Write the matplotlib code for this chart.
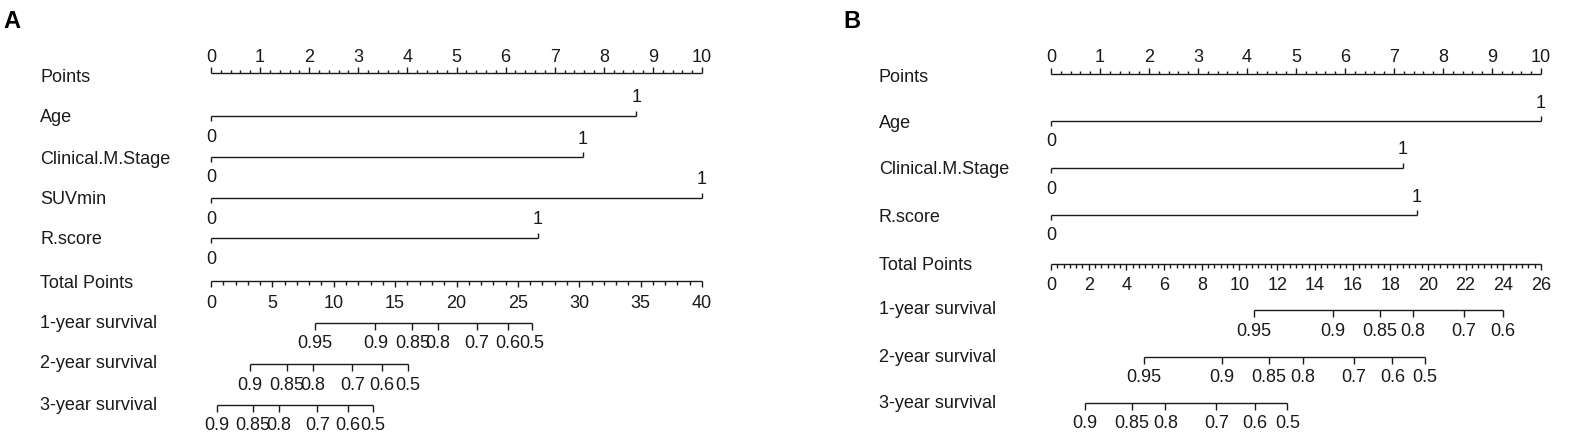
import matplotlib
matplotlib.use("Agg")
import matplotlib.pyplot as plt
import matplotlib.transforms as mtransforms
import numpy as np

W, H = 1582, 446
plt.rcParams["font.family"] = ["Liberation Sans", "DejaVu Sans"]

# ---------------- panel A data ----------------
a_vars = ["Age", "Clinical.M.Stage", "SUVmin", "R.score"]
a_var_points = [8.66, 7.57, 10.0, 6.66]  # points at value 1 (value 0 -> 0 points)
a_total_max = 40
a_total_labels = [0, 5, 10, 15, 20, 25, 30, 35, 40]
a_surv_names = ["1-year survival", "2-year survival", "3-year survival"]
a_surv_probs = [
    [0.95, 0.9, 0.85, 0.8, 0.7, 0.6, 0.5],
    [0.9, 0.85, 0.8, 0.7, 0.6, 0.5],
    [0.9, 0.85, 0.8, 0.7, 0.6, 0.5],
]
a_surv_total = [
    [8.48, 13.4, 16.4, 18.48, 21.64, 24.18, 26.17],
    [3.16, 6.17, 8.28, 11.52, 13.95, 16.02],
    [0.51, 3.44, 5.55, 8.67, 11.17, 13.16],
]

# ---------------- panel B data ----------------
b_vars = ["Age", "Clinical.M.Stage", "R.score"]
b_var_points = [10.0, 7.18, 7.46]
b_total_max = 26
b_total_labels = [0, 2, 4, 6, 8, 10, 12, 14, 16, 18, 20, 22, 24, 26]
b_surv_names = ["1-year survival", "2-year survival", "3-year survival"]
b_surv_probs = [
    [0.95, 0.9, 0.85, 0.8, 0.7, 0.6],
    [0.95, 0.9, 0.85, 0.8, 0.7, 0.6, 0.5],
    [0.9, 0.85, 0.8, 0.7, 0.6, 0.5],
]
b_surv_total = [
    [10.78, 14.94, 17.44, 19.22, 21.92, 23.96],
    [4.92, 9.05, 11.55, 13.36, 16.06, 18.12, 19.83],
    [1.81, 4.28, 6.07, 8.77, 10.81, 12.54],
]

point_labels = list(range(0, 11))

LC = "#1a1a1a"
FS = 13


def draw_nomogram(fig, letter, letter_x, px0, px1, label_px, rows,
                  var_names, var_points, total_max, total_labels,
                  total_minor, surv_names, surv_probs, surv_total):
    ax = fig.add_axes([px0 / W, 0, (px1 - px0) / W, 1])
    ax.set_xlim(0, 10)
    ax.set_ylim(H, 0)
    ax.axis("off")
    lab = mtransforms.blended_transform_factory(fig.transFigure, ax.transData)
    kw = dict(color=LC, lw=1.0, solid_capstyle="butt", clip_on=False)

    fig.text(letter_x / W, 1 - 21 / H, letter, fontsize=17, fontweight="bold",
             ha="left", va="center", color="black")

    # Points axis (ticks up, labels above)
    y = rows["points"]
    ax.plot([0, 10], [y, y], **kw)
    for t in np.arange(0, 10.001, 0.2):
        major = abs(t - round(t)) < 1e-6
        ax.plot([t, t], [y, y - (6 if major else 3)], **kw)
    for t in point_labels:
        ax.text(t, y - 16, str(t), ha="center", va="center", fontsize=FS, color=LC)
    ax.text(label_px / W, y + 4, "Points", transform=lab, ha="left", va="center",
            fontsize=FS, color=LC)

    # variables
    for name, pts, y in zip(var_names, var_points, rows["vars"]):
        ax.plot([0, pts], [y, y], **kw)
        ax.plot([0, 0], [y, y + 5], **kw)
        ax.plot([pts, pts], [y, y - 5], **kw)
        ax.text(0, y + 21, "0", ha="center", va="center", fontsize=FS, color=LC)
        ax.text(pts, y - 18, "1", ha="center", va="center", fontsize=FS, color=LC)
        ax.text(label_px / W, y + 2, name, transform=lab, ha="left", va="center",
                fontsize=FS, color=LC)

    # Total points axis (ticks down, labels below)
    y = rows["total"]
    sc = 10.0 / total_max
    ax.plot([0, 10], [y, y], **kw)
    for t in np.arange(0, total_max + 1e-6, total_minor):
        major = any(abs(t - m) < 1e-6 for m in total_labels)
        ax.plot([t * sc, t * sc], [y, y + (6 if major else 4)], **kw)
    for t in total_labels:
        ax.text(t * sc, y + 22, str(t), ha="center", va="center", fontsize=FS, color=LC)
    ax.text(label_px / W, y + 2, "Total Points", transform=lab, ha="left",
            va="center", fontsize=FS, color=LC)

    # survival axes
    for name, probs, tots, y in zip(surv_names, surv_probs, surv_total, rows["surv"]):
        xs = [t * sc for t in tots]
        ax.plot([xs[0], xs[-1]], [y, y], **kw)
        for xv, p in zip(xs, probs):
            ax.plot([xv, xv], [y, y + 7], **kw)
            ax.text(xv, y + 21, f"{p:g}", ha="center", va="center", fontsize=FS,
                    color=LC)
        ax.text(label_px / W, y, name, transform=lab, ha="left", va="center",
                fontsize=FS, color=LC)
    return ax


fig = plt.figure(figsize=(W / 100, H / 100), dpi=100)

draw_nomogram(
    fig, "A", 3, 211, 702, 40,
    dict(points=73, vars=[116, 157, 198, 238], total=281, surv=[323, 364, 405]),
    a_vars, a_var_points, a_total_max, a_total_labels, 1,
    a_surv_names, a_surv_probs, a_surv_total,
)
draw_nomogram(
    fig, "B", 843, 1051, 1541, 879,
    dict(points=74, vars=[121, 168, 215], total=264, surv=[310, 357, 403]),
    b_vars, b_var_points, b_total_max, b_total_labels, 1 / 3,
    b_surv_names, b_surv_probs, b_surv_total,
)

fig.savefig("out.png", dpi=100)
